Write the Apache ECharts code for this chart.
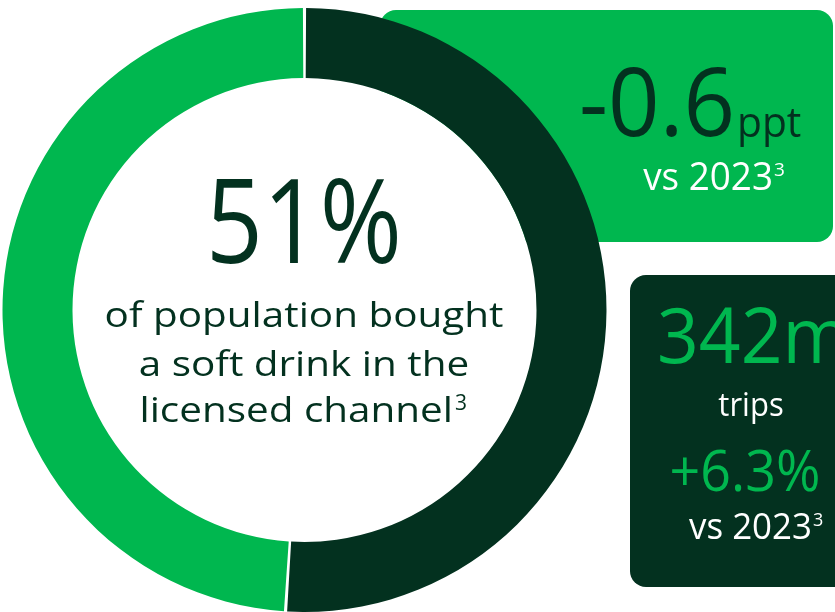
<!DOCTYPE html>
<html>
<head>
<meta charset="utf-8">
<script src="https://cdn.jsdelivr.net/npm/echarts@6/dist/echarts.min.js"></script>
<style>
  html, body { margin: 0; padding: 0; background: #ffffff; }
  #chart { width: 835px; height: 612px; }
</style>
</head>
<body>
<div id="chart"></div>
<script>
// Share of population buying a soft drink in the licensed channel
const segmentNames = ['Bought', 'Did not buy'];
const segmentShares = [51, 49];
const segmentColors = ['#03311f', '#00b74f'];

// Headline figures
const headline = '51%';
const headlineLines = ['of population bought', 'a soft drink in the', 'licensed channel'];
const footnoteMark = '3';
const pptChange = '-0.6';
const pptUnit = 'ppt';
const comparison = 'vs 2023';
const tripsValue = '342m';
const tripsLabel = 'trips';
const tripsChange = '+6.3%';

const DARK = '#03311f';
const GREEN = '#00b74f';
const FONT = '"Open Sans", "Noto Sans", sans-serif';

const CX = 304.5, CY = 310, R_IN = 232, R_OUT = 302;

const chart = echarts.init(document.getElementById('chart'), null, { renderer: 'canvas' });

function txt(x, y, text, size, color, align, sx) {
  return {
    type: 'text',
    x: x, y: y,
    scaleX: sx || 1,
    z: 10,
    style: {
      text: text,
      fill: color,
      font: '400 ' + size + 'px ' + FONT,
      align: align || 'center',
      verticalAlign: 'middle'
    }
  };
}

const option = {
  backgroundColor: '#ffffff',
  animation: false,
  graphic: [
    // stat panels tucked behind the ring
    { type: 'rect', z: 0, shape: { x: 380, y: 10, width: 453, height: 232, r: 16 }, style: { fill: GREEN } },
    { type: 'rect', z: 0, shape: { x: 630, y: 275, width: 240, height: 312, r: 16 }, style: { fill: DARK } },
    // keep the hole of the ring clear
    { type: 'circle', z: 1, shape: { cx: CX, cy: CY, r: R_IN }, style: { fill: '#ffffff' } },

    // centre of the ring
    txt(304, 230, headline, 117, DARK, 'center', 0.85),
    txt(304, 317, headlineLines[0], 35, DARK, 'center', 1.155),
    txt(304, 366, headlineLines[1], 35, DARK, 'center', 1.155),
    txt(453, 412, headlineLines[2], 35, DARK, 'right', 1.155),
    txt(455, 404, footnoteMark, 21, DARK, 'left'),

    // green panel
    txt(735, 109, pptChange, 95, DARK, 'right', 0.95),
    txt(737, 125, pptUnit, 42, DARK, 'left', 0.97),
    txt(773, 179, comparison, 38, '#ffffff', 'right', 0.97),
    txt(774, 171, footnoteMark, 19, '#ffffff', 'left'),

    // dark panel
    txt(657, 341, tripsValue, 77, GREEN, 'left', 0.95),
    txt(751, 407, tripsLabel, 32, '#ffffff', 'center', 0.97),
    txt(745, 475, tripsChange, 56, GREEN, 'center', 0.96),
    txt(812, 529, comparison, 36, '#ffffff', 'right', 0.97),
    txt(813, 521, footnoteMark, 18, '#ffffff', 'left')
  ],
  series: [{
    type: 'pie',
    z: 5,
    center: [CX, CY],
    radius: [R_IN, R_OUT],
    startAngle: 90,
    clockwise: true,
    padAngle: 0.6,
    silent: true,
    label: { show: false },
    labelLine: { show: false },
    data: segmentNames.map((n, i) => ({
      name: n,
      value: segmentShares[i],
      itemStyle: { color: segmentColors[i] }
    }))
  }]
};

chart.setOption(option);
</script>
</body>
</html>
